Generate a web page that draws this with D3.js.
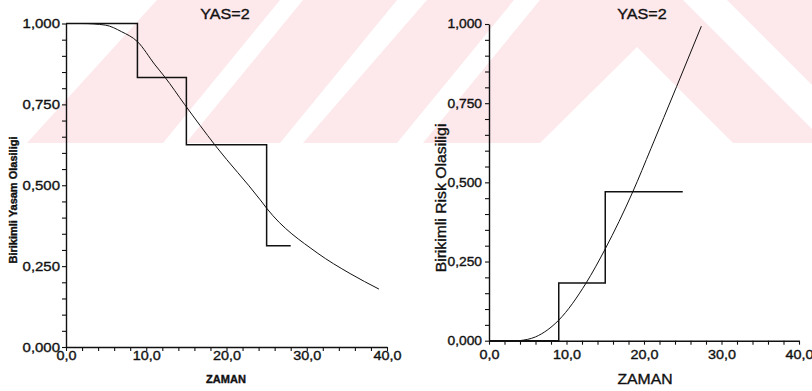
<!DOCTYPE html>
<html>
<head>
<meta charset="utf-8">
<script src="https://cdn.jsdelivr.net/npm/d3@7"></script>
<style>
  body { margin: 0; background: #fff; }
  svg { display: block; }
  text { font-family: "Liberation Sans", Arial, sans-serif; fill: #111; }
</style>
</head>
<body>
<svg id="chart" width="812" height="391"></svg>
<script>
// labels
const panelTitle = 'YAS=2';
const timeLabel = 'ZAMAN';
const survivalLabel = 'Birikimli Yasam Olasiligi';
const riskLabel = 'Birikimli Risk Olasiligi';

const timeDomain = [0, 40];
const timeMajorTicks = [0, 10, 20, 30, 40];
const probMajorTicks = [0, 0.25, 0.5, 0.75, 1];

// left panel: step estimate + fitted curve
const survStepTime = [0, 8.9, 15, 25, 28];
const survStepValue = [1.000, 0.833, 0.625, 0.313, 0.313];
const survCurveTime = [0, 2, 4.9, 6.9, 8.9, 11.1, 12.3, 14.8, 18.6, 24.2, 25, 31.3, 35.4, 39];
const survCurveValue = [1, 1, 0.995, 0.975, 0.944, 0.872, 0.835, 0.749, 0.623, 0.455, 0.429, 0.291, 0.227, 0.179];

// right panel
const riskStepTime = [0, 9, 15, 25];
const riskStepValue = [0, 0.182, 0.470, 0.470];
const riskCurveTime = [3.9, 6, 9, 12.5, 15, 18.55, 20.9, 24.2, 27.4];
const riskCurveValue = [0, 0.012, 0.065, 0.181, 0.29, 0.47, 0.607, 0.802, 0.993];

const trLocale = d3.formatLocale({ decimal: ',', thousands: '.', grouping: [3], currency: ['', ''] });
const fmtTime = trLocale.format('.1f');
const fmtProb = trLocale.format('.3f');

const svg = d3.select('#chart');

// scanned-page watermark, pale pink band across the top
function drawWatermark() {
  const g = svg.append('g');
  const pink = '#fde8eb';
  g.append('rect').attr('x', 0).attr('y', 0).attr('width', 812).attr('height', 143).attr('fill', pink);
  const gaps = [
    [[0, 0], [157, 0], [27, 143], [0, 143]],
    [[163, 143], [186, 143], [303, 0], [280, 0]],
    [[280, 143], [303, 143], [427, 0], [397, 0]],
    [[397, 143], [423, 143], [540, 0], [514, 0]],
    [[540, 143], [637, 47], [733, 143]],
    [[683, 0], [727, 0], [870, 143], [826, 143]]
  ];
  g.selectAll('polygon').data(gaps).enter().append('polygon')
    .attr('points', d => d.map(p => p.join(',')).join(' '))
    .attr('fill', '#fff');
}

// widen text a bit, the scan is slightly stretched; thin stroke mimics the ink spread
function stretch(sel, k) {
  sel.each(function() {
    const w = this.getComputedTextLength();
    d3.select(this).attr('textLength', w * k).attr('lengthAdjust', 'spacingAndGlyphs')
      .attr('stroke', '#111').attr('stroke-width', 0.35);
  });
}

function drawPanel(cfg) {
  const x = d3.scaleLinear().domain(timeDomain).range(cfg.xRange);
  const y = d3.scaleLinear().domain([0, 1]).range(cfg.yRange);
  const g = svg.append('g');

  const xMinor = d3.range(0, 41, 2);
  const yMinor = d3.range(0, 21).map(i => i / 20);
  const isMajorY = d => probMajorTicks.some(t => Math.abs(t - d) < 1e-9);

  const xAxis = g.append('g')
    .attr('transform', `translate(0,${cfg.yRange[0]})`)
    .call(d3.axisBottom(x).tickValues(xMinor).tickSize(4).tickSizeOuter(0)
      .tickPadding(cfg.xPad)
      .tickFormat(d => timeMajorTicks.includes(d) ? fmtTime(d) : ''));
  xAxis.selectAll('text').attr('font-size', cfg.xFont);

  const yAxis = g.append('g')
    .attr('transform', `translate(${cfg.xRange[0]},0)`)
    .call(d3.axisLeft(y).tickValues(yMinor).tickSize(4).tickSizeOuter(0)
      .tickPadding(cfg.yPad)
      .tickFormat(d => isMajorY(d) ? fmtProb(d) : ''));
  yAxis.selectAll('text').attr('font-size', cfg.yFont);

  g.selectAll('.domain').attr('stroke', '#111').attr('stroke-width', 1.4);
  g.selectAll('.tick line').attr('stroke', '#111').attr('stroke-width', 1.1);
  g.selectAll('.tick text').attr('fill', '#111').attr('font-family', '"Liberation Sans", Arial, sans-serif');
  stretch(g.selectAll('.tick text'), 1.15);

  const stepLine = d3.line().x(d => x(d[0])).y(d => y(d[1])).curve(d3.curveStepAfter);
  const smoothLine = d3.line().x(d => x(d[0])).y(d => y(d[1])).curve(d3.curveMonotoneX);

  g.append('path')
    .attr('d', stepLine(d3.zip(cfg.stepTime, cfg.stepValue)))
    .attr('fill', 'none').attr('stroke', '#111').attr('stroke-width', 1.5);
  g.append('path')
    .attr('d', smoothLine(d3.zip(cfg.curveTime, cfg.curveValue)))
    .attr('fill', 'none').attr('stroke', '#111').attr('stroke-width', 1);

  const title = g.append('text')
    .attr('x', cfg.titleX).attr('y', 19)
    .attr('text-anchor', 'middle').attr('font-size', 14)
    .text(panelTitle);
  stretch(title, 1.15);

  const xt = g.append('text')
    .attr('x', cfg.xLabelPos[0]).attr('y', cfg.xLabelPos[1])
    .attr('text-anchor', 'middle').attr('font-size', cfg.labelFont)
    .attr('font-weight', cfg.labelWeight)
    .text(timeLabel);
  stretch(xt, cfg.labelStretch);

  const yt = g.append('text')
    .attr('transform', `translate(${cfg.yLabelPos[0]},${cfg.yLabelPos[1]}) rotate(-90)`)
    .attr('text-anchor', 'middle').attr('font-size', cfg.labelFont)
    .attr('font-weight', cfg.labelWeight)
    .text(cfg.yLabel);
  stretch(yt, cfg.labelStretch);
}

drawWatermark();

drawPanel({
  xRange: [66, 387], yRange: [347, 23.5],
  xPad: 0, yPad: 2, xFont: 12.5, yFont: 13,
  stepTime: survStepTime, stepValue: survStepValue,
  curveTime: survCurveTime, curveValue: survCurveValue,
  titleX: 225, xLabelPos: [226, 383], yLabelPos: [17, 200],
  labelFont: 10, labelWeight: 'bold', labelStretch: 1.1,
  yLabel: survivalLabel
});

drawPanel({
  xRange: [489, 799], yRange: [340.7, 24],
  xPad: 5, yPad: 3, xFont: 12.5, yFont: 12,
  stepTime: riskStepTime, stepValue: riskStepValue,
  curveTime: riskCurveTime, curveValue: riskCurveValue,
  titleX: 642, xLabelPos: [645, 384], yLabelPos: [446, 198],
  labelFont: 15, labelWeight: 'normal', labelStretch: 1.05,
  yLabel: riskLabel
});
</script>
</body>
</html>
